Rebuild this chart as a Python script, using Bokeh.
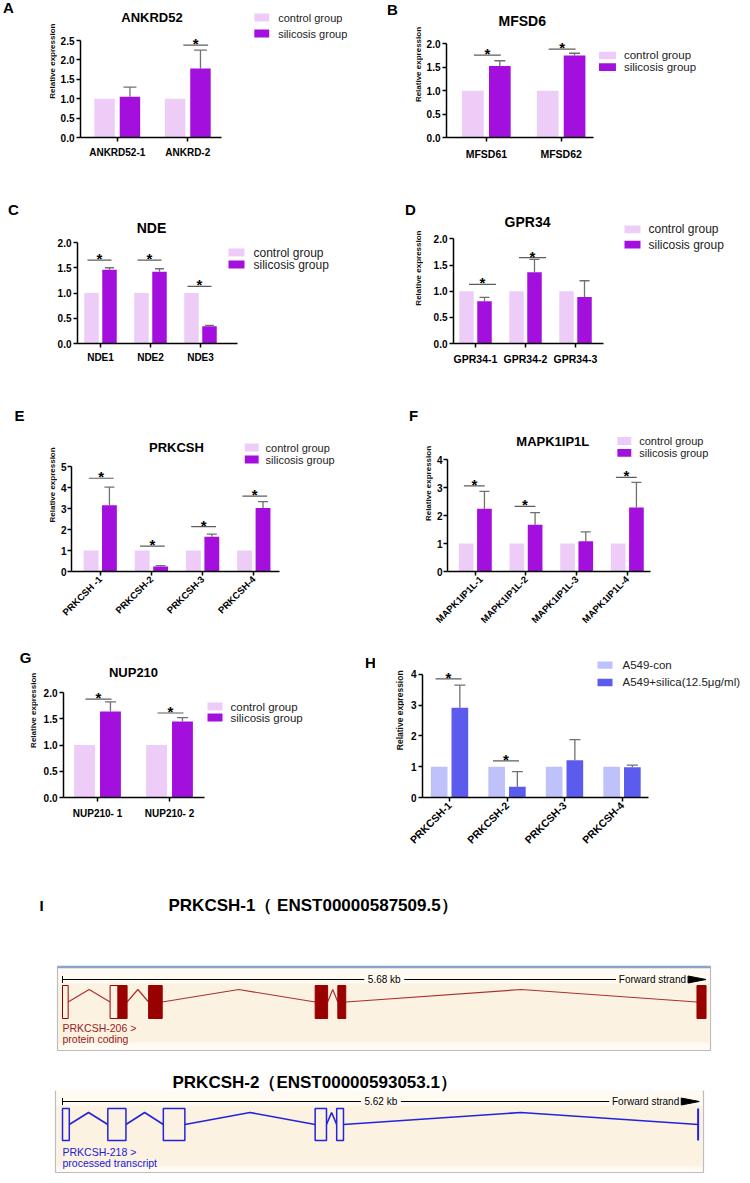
import math
from bokeh.plotting import figure
from bokeh.models import (Range1d, FixedTicker, Whisker, TeeHead,
                          ColumnDataSource, NumeralTickFormatter)
from bokeh.layouts import column, row
from bokeh.embed import file_html
from bokeh.resources import INLINE
from bokeh.core.properties import value

FONT = "Liberation Sans"

# ---------------- data ----------------
GROUPS = ["control group", "silicosis group"]
GROUPS_H = ["A549-con", "A549+silica(12.5μg/ml)"]
YLABEL = "Relative expression"

A_title = "ANKRD52"
A_cats = ["ANKRD52-1", "ANKRD-2"]
A_ctrl = [1.0, 1.0]
A_sil = [1.05, 1.78]
A_err = [0.25, 0.47]
A_sig = [None, 2.38]
A_yticks = [0, 0.5, 1.0, 1.5, 2.0, 2.5]

B_title = "MFSD6"
B_cats = ["MFSD61", "MFSD62"]
B_ctrl = [1.0, 1.0]
B_sil = [1.53, 1.75]
B_err = [0.11, 0.05]
B_sig = [1.76, 1.89]
B_yticks = [0, 0.5, 1.0, 1.5, 2.0]

C_title = "NDE"
C_cats = ["NDE1", "NDE2", "NDE3"]
C_ctrl = [1.0, 1.0, 1.0]
C_sil = [1.46, 1.42, 0.34]
C_err = [0.04, 0.06, 0.02]
C_sig = [1.65, 1.65, 1.13]
C_yticks = [0, 0.5, 1.0, 1.5, 2.0]

D_title = "GPR34"
D_cats = ["GPR34-1", "GPR34-2", "GPR34-3"]
D_ctrl = [1.0, 1.0, 1.0]
D_sil = [0.81, 1.36, 0.89]
D_err = [0.07, 0.25, 0.31]
D_sig = [1.13, 1.64, None]
D_yticks = [0, 0.5, 1.0, 1.5, 2.0]

E_title = "PRKCSH"
E_cats = ["PRKCSH -1", "PRKCSH-2", "PRKCSH-3", "PRKCSH-4"]
E_ctrl = [1.0, 1.0, 1.0, 1.0]
E_sil = [3.15, 0.24, 1.65, 3.02]
E_err = [0.87, 0.04, 0.13, 0.31]
E_sig = [4.44, 1.21, 2.14, 3.59]
E_yticks = [0, 1, 2, 3, 4, 5]

F_title = "MAPK1IP1L"
F_cats = ["MAPK1IP1L-1", "MAPK1IP1L-2", "MAPK1IP1L-3", "MAPK1IP1L-4"]
F_ctrl = [1.0, 1.0, 1.0, 1.0]
F_sil = [2.25, 1.67, 1.08, 2.29]
F_err = [0.62, 0.44, 0.34, 0.90]
F_sig = [3.07, 2.33, None, 3.37]
F_yticks = [0, 1, 2, 3, 4]

G_title = "NUP210"
G_cats = ["NUP210- 1", "NUP210- 2"]
G_ctrl = [1.0, 1.0]
G_sil = [1.64, 1.45]
G_err = [0.18, 0.07]
G_sig = [1.875, 1.61]
G_yticks = [0, 0.5, 1.0, 1.5, 2.0]

H_title = None
H_cats = ["PRKCSH-1", "PRKCSH-2", "PRKCSH-3", "PRKCSH-4"]
H_ctrl = [1.0, 1.0, 1.0, 1.0]
H_sil = [2.91, 0.35, 1.21, 0.98]
H_err = [0.74, 0.49, 0.67, 0.07]
H_sig = [3.85, 1.19, None, None]
H_yticks = [0, 1, 2, 3, 4]

# gene structures (kb from transcript start)
T1_name = "PRKCSH-1（ ENST00000587509.5）"
T1_label = ["PRKCSH-206 >", "protein coding"]
T1_len = 5.68
T1_start = [0.00, 0.42, 0.76, 2.23, 2.43, 5.60]
T1_end = [0.05, 0.57, 0.88, 2.34, 2.50, 5.68]
T1_cds_start = 0.49

T2_name = "PRKCSH-2（ENST00000593053.1）"
T2_label = ["PRKCSH-218 >", "processed transcript"]
T2_len = 5.62
T2_start = [0.00, 0.40, 0.89, 2.23, 2.42, 5.61]
T2_end = [0.06, 0.56, 1.08, 2.33, 2.48, 5.61]

# ---------------- styles / layout ----------------
OFF = 0.18
BW = 0.29
ERR_C = "#707070"
SIG_C = "#5c5c5c"
PURPLE = ["#EDCDF7", "#A310DD"]
BLUE = ["#BFC2FA", "#5B5CEE"]
PW = 375

GEO = {
    "A": dict(ox=0, oy=0, h=200, split=57, ax=78, ay=137, ytop=40, t0=115, dx=71, xend=220,
              title_xy=(150, 17), tfs=13, letter=("A", 8, 10), sw=(253, 268), ly=(17, 33),
              tx=277, lfs=11, ylab=52, xfs=10, xstand=5, sig_shift=8, sig_hw=12.5, cap=13, fmt="0.0"),
    "B": dict(ox=375, oy=0, h=200, split=423, ax=445, ay=142, ytop=45, t0=485, dx=75, xend=592,
              title_xy=(521, 21), tfs=14, letter=("B", 392, 13), sw=(598, 615), ly=(57, 69),
              tx=623, lfs=11.5, ylab=418, xfs=10.5, xstand=6, sig_shift=1, sig_hw=13.5, cap=11, fmt="0.0"),
    "C": dict(ox=0, oy=200, h=200, split=30, ax=77, ay=343, ytop=242, t0=100, dx=50, xend=237,
              title_xy=(151, 227), tfs=14, letter=("C", 13, 212), sw=(228, 244), ly=(252, 264),
              tx=253, lfs=12, ylab=None, xfs=10, xstand=4, sig_shift=-1, sig_hw=12, cap=9, fmt="0.0"),
    "D": dict(ox=375, oy=200, h=200, split=423, ax=453, ay=349, ytop=240, t0=475, dx=50, xend=603,
              title_xy=(527, 222), tfs=14, letter=("D", 410, 212), sw=(624, 640), ly=(230, 246),
              tx=648, lfs=12, ylab=418, xfs=10.5, xstand=5, sig_shift=7, sig_hw=13.5, cap=10, fmt="0.0"),
    "E": dict(ox=0, oy=400, h=240, split=57, ax=68, ay=571, ytop=466, t0=97, dx=51.7, xend=278,
              title_xy=(174, 447), tfs=13, letter=("E", 19, 421), sw=(243, 257), ly=(447, 459),
              tx=264, lfs=11, ylab=52, xfs=9.5, xstand=2, ystand=1, rot=True, sig_shift=1,
              sig_hw=12.5, cap=10, fmt="0"),
    "F": dict(ox=375, oy=400, h=240, split=433, ax=445, ay=573, ytop=460, t0=473, dx=51, xend=649,
              title_xy=(551, 441), tfs=13, letter=("F", 413, 421), sw=(616, 630), ly=(441, 453),
              tx=638, lfs=11, ylab=428, xfs=9.5, xstand=2, ystand=1, rot=True, sig_shift=-1,
              sig_hw=10.5, cap=10, fmt="0"),
    "G": dict(ox=0, oy=640, h=235, split=38, ax=63, ay=797, ytop=692, t0=97, dx=72, xend=204,
              title_xy=(133, 672), tfs=13, letter=("G", 25, 665), sw=(207, 222), ly=(706, 717),
              tx=230, lfs=11.5, ylab=33, xfs=10, xstand=6, sig_shift=1, sig_hw=13, cap=11, fmt="0.0",
              extra_letter=("H", 370, 662)),
    "H": dict(ox=375, oy=640, h=235, split=404, ax=422, ay=812, ytop=677, t0=449, dx=57.5, xend=648,
              title_xy=None, tfs=13, letter=None, sw=(597, 612), ly=(667, 686),
              tx=622, lfs=11.5, ylab=399, ylfs=8.5, xfs=10.5, xstand=2, rot=True, sig_shift=-1,
              sig_hw=13, cap=11, fmt="0"),
}


def side_strip(g):
    """Narrow figure left of a chart's y axis holding the panel letter and y-axis title."""
    ox, oy, H = g["ox"], g["oy"], g["h"]
    w = g["split"] - ox
    p = figure(width=w, height=H, title=None, x_range=Range1d(ox, ox + w),
               y_range=Range1d(-(oy + H), -oy), x_axis_type=None, y_axis_type=None,
               min_border=0, min_border_left=0, min_border_right=0, min_border_top=0,
               min_border_bottom=0, output_backend="svg", toolbar_location=None, tools="")
    p.outline_line_color = None
    p.background_fill_color = "white"
    p.border_fill_color = "white"
    if g.get("letter"):
        L, lx, ly = g["letter"]
        p.text(x=[lx], y=[-ly], text=[L], text_align="center", text_baseline="middle",
               text_font=value(FONT), text_font_size="15px", text_font_style="bold",
               text_color="black")
    if g.get("ylab") is not None:
        p.text(x=[g["ylab"]], y=[-(g["ytop"] + g["ay"]) / 2], text=[YLABEL], angle=math.pi / 2,
               text_align="center", text_baseline="middle", text_font=value(FONT),
               text_font_size=f"{g.get('ylfs', 8)}px", text_font_style="bold",
               text_color="#111111")
    return p


def bar_panel(g, title, cats, ctrl, treat, err, sig, yticks, names, colors):
    ox, oy, H = g["ox"], g["oy"], g["h"]
    sx0 = g["split"]
    ax, ay, t0, dx = g["ax"], g["ay"], g["t0"], g["dx"]
    py = (ay - g["ytop"]) / yticks[-1]

    def X(rx):
        return (rx - t0) / dx

    def Y(ry):
        return (ay - ry) / py

    p = figure(width=ox + PW - sx0, height=H, title=None,
               x_range=Range1d(X(ax), X(ox + PW)), y_range=Range1d(0, Y(oy)),
               output_backend="svg", toolbar_location=None, tools="",
               min_border_left=int(ax - sx0), min_border_right=0, min_border_top=0,
               min_border_bottom=int(H - (ay - oy)))
    p.outline_line_color = None
    p.xgrid.visible = False
    p.ygrid.visible = False
    p.background_fill_color = "white"
    p.border_fill_color = "white"

    idx = list(range(len(cats)))
    src = ColumnDataSource(dict(
        xc=[i - OFF for i in idx], xt=[i + OFF for i in idx],
        ctrl=ctrl, treat=treat, hi=[t + e for t, e in zip(treat, err)]))
    p.vbar(x="xc", top="ctrl", width=BW, source=src, fill_color=colors[0], line_color=None)
    p.vbar(x="xt", top="treat", width=BW, source=src, fill_color=colors[1], line_color=None)
    p.add_layout(Whisker(source=src, base="xt", lower="treat", upper="hi",
                         line_color=ERR_C, line_width=1.3,
                         upper_head=TeeHead(size=g["cap"], line_color=ERR_C, line_width=1.3),
                         lower_head=None))

    # axes
    xa = p.xaxis[0]
    ya = p.yaxis[0]
    xa.ticker = FixedTicker(ticks=idx)
    xa.major_label_overrides = {i: c for i, c in enumerate(cats)}
    xa.bounds = (X(ax), X(g["xend"]))
    ya.ticker = FixedTicker(ticks=yticks)
    ya.formatter = NumeralTickFormatter(format=g["fmt"])
    ya.bounds = (0, yticks[-1])
    for a in (xa, ya):
        a.axis_line_color = "black"
        a.axis_line_width = 1.5
        a.major_tick_line_color = "black"
        a.major_tick_line_width = 1.5
        a.major_tick_out = 4
        a.major_tick_in = 0
        a.minor_tick_line_color = None
        a.major_label_text_font = FONT
        a.major_label_text_font_style = "bold"
        a.major_label_text_color = "black"
    ya.major_label_standoff = g.get("ystand", 2)
    xa.major_label_standoff = g.get("xstand", 2)
    xa.major_label_text_font_size = f"{g['xfs']}px"
    ya.major_label_text_font_size = "10px"
    if g.get("rot"):
        xa.major_label_orientation = math.pi / 4

    # significance bars and stars
    sx = [i + g["sig_shift"] / dx for i, s in enumerate(sig) if s is not None]
    sy = [s for s in sig if s is not None]
    hw = g["sig_hw"] / dx
    if sx:
        p.segment(x0=[x - hw for x in sx], x1=[x + hw for x in sx], y0=sy, y1=sy,
                  line_color=SIG_C, line_width=1.2)
        p.text(x=sx, y=[s + 1.5 / py for s in sy], text=["*"] * len(sx),
               text_align="center", text_baseline="alphabetic", text_font=value(FONT),
               text_font_size="15px", text_font_style="bold", text_color="black")

    # legend (swatches + labels)
    s0, s1 = g["sw"]
    p.rect(x=[X((s0 + s1) / 2)] * 2, y=[Y(v) for v in g["ly"]],
           width=(s1 - s0) / dx, height=8 / py, fill_color=colors, line_color=None)
    p.text(x=[X(g["tx"])] * 2, y=[Y(v) for v in g["ly"]], text=names,
           text_align="left", text_baseline="middle", text_font=value(FONT),
           text_font_size=f"{g['lfs']}px", text_color="#222222")

    # title
    if title:
        tx_, ty_ = g["title_xy"]
        p.text(x=[X(tx_)], y=[Y(ty_)], text=[title], text_align="center",
               text_baseline="middle", text_font=value(FONT),
               text_font_size=f"{g['tfs']}px", text_font_style="bold", text_color="black")

    if g.get("extra_letter"):
        L, lx, ly = g["extra_letter"]
        p.text(x=[X(lx)], y=[Y(ly)], text=[L], text_align="center", text_baseline="middle",
               text_font=value(FONT), text_font_size="15px", text_font_style="bold",
               text_color="black")
    return [side_strip(g), p]


pA = bar_panel(GEO["A"], A_title, A_cats, A_ctrl, A_sil, A_err, A_sig, A_yticks, GROUPS, PURPLE)
pB = bar_panel(GEO["B"], B_title, B_cats, B_ctrl, B_sil, B_err, B_sig, B_yticks, GROUPS, PURPLE)
pC = bar_panel(GEO["C"], C_title, C_cats, C_ctrl, C_sil, C_err, C_sig, C_yticks, GROUPS, PURPLE)
pD = bar_panel(GEO["D"], D_title, D_cats, D_ctrl, D_sil, D_err, D_sig, D_yticks, GROUPS, PURPLE)
pE = bar_panel(GEO["E"], E_title, E_cats, E_ctrl, E_sil, E_err, E_sig, E_yticks, GROUPS, PURPLE)
pF = bar_panel(GEO["F"], F_title, F_cats, F_ctrl, F_sil, F_err, F_sig, F_yticks, GROUPS, PURPLE)
pG = bar_panel(GEO["G"], G_title, G_cats, G_ctrl, G_sil, G_err, G_sig, G_yticks, GROUPS, PURPLE)
pH = bar_panel(GEO["H"], H_title, H_cats, H_ctrl, H_sil, H_err, H_sig, H_yticks, GROUPS_H, BLUE)

# ---------------- panel I: transcript structures ----------------
I_ORIGIN_PX = 62
I_PX_PER_KB = 113.3
I_TOP, I_BOTTOM = 875, 1183
BOX_FILL = "#FFFAF2"
BAND_FILL = "#FCF2E2"
RED = "#990000"
RED_LINE = "#A83232"
BLU = "#2323DD"


def K(rx):
    return (rx - I_ORIGIN_PX) / I_PX_PER_KB


pI = figure(width=750, height=I_BOTTOM - I_TOP, title=None, x_range=Range1d(K(0), K(750)),
            y_range=Range1d(I_BOTTOM, I_TOP), x_axis_type=None, y_axis_type=None,
            min_border=0, min_border_left=0, min_border_right=0, min_border_top=0,
            min_border_bottom=0, output_backend="svg", toolbar_location=None, tools="")
pI.outline_line_color = None
pI.background_fill_color = "white"

TXT = dict(text_font=value(FONT), text_baseline="middle")

pI.text(x=[K(41)], y=[905], text=["I"], text_align="center", text_font_size="15px",
        text_font_style="bold", text_color="black", **TXT)


def transcript(p, name, labels, length, starts, ends, cds_start, G):
    col = G["col"]
    # frame box
    p.quad(left=[K(G["bx0"])], right=[K(G["bx1"])], top=[G["btop"]], bottom=[G["bbot"]],
           fill_color=BOX_FILL, line_color=None)
    p.quad(left=[K(G["bx0"] + 1)], right=[K(G["bx1"] - 1)], top=[G["band"][0]],
           bottom=[G["band"][1]], fill_color=BAND_FILL, line_color=None)
    p.multi_line(xs=[[K(G["bx0"]), K(G["bx0"]), K(G["bx1"]), K(G["bx1"])]],
                 ys=[[G["btop"], G["bbot"], G["bbot"], G["btop"]]],
                 line_color="#BDBDBD", line_width=1.2)
    if G.get("topline"):
        p.segment(x0=[K(G["bx0"])], x1=[K(G["bx1"])], y0=[G["btop"] + 0.5], y1=[G["btop"] + 0.5],
                  line_color="#8DA2C9", line_width=2.5)
    # title
    p.text(x=[K(G["tx"])], y=[G["ty"]], text=[name], text_align="left",
           text_font_size="17px", text_font_style="bold", text_color="black", **TXT)
    # scale bar
    sy = G["sy"]
    mid = length / 2
    gap = 20 / I_PX_PER_KB
    arrow0 = length - 18 / I_PX_PER_KB
    fw_right = arrow0 - 2 / I_PX_PER_KB
    fw_left = fw_right - 68 / I_PX_PER_KB
    p.segment(x0=[0, mid + gap, 0], x1=[mid - gap, fw_left - 2 / I_PX_PER_KB, 0],
              y0=[sy, sy, sy - 3.5], y1=[sy, sy, sy + 3.5], line_color="black", line_width=1)
    p.text(x=[mid], y=[sy], text=[f"{length:.2f} kb"], text_align="center",
           text_font_size="10px", text_color="black", **TXT)
    p.text(x=[fw_right], y=[sy], text=["Forward strand"], text_align="right",
           text_font_size="10px", text_color="black", **TXT)
    p.patch(x=[arrow0, length, arrow0], y=[sy - 3.5, sy, sy + 3.5], fill_color="black",
            line_color="black", line_width=1)
    # introns (hat shape)
    base, peak = G["base"], G["peak"]
    xs, ys = [], []
    for i in range(len(starts) - 1):
        a, b = ends[i], starts[i + 1]
        xs.append([a, (a + b) / 2, b])
        ys.append([base, peak, base])
    p.multi_line(xs=xs, ys=ys, line_color=G["icol"], line_width=G["iw"])
    # exons
    et, eb = G["etop"], G["ebot"]
    ol, orr, fl, fr = [], [], [], []
    lines_x = []
    for s, e in zip(starts, ends):
        if e - s < 1e-6:
            lines_x.append(s)
            continue
        if cds_start is None:
            ol.append(s)
            orr.append(e)
            continue
        if s < cds_start:
            ol.append(s)
            orr.append(min(e, cds_start))
        if e > cds_start:
            fl.append(max(s, cds_start))
            fr.append(e)
    if ol:
        p.quad(left=ol, right=orr, top=[et] * len(ol), bottom=[eb] * len(ol),
               fill_color=BAND_FILL, line_color=col, line_width=G["ew"])
    if fl:
        p.quad(left=fl, right=fr, top=[et] * len(fl), bottom=[eb] * len(fl),
               fill_color=col, line_color=col, line_width=1)
    if lines_x:
        p.segment(x0=lines_x, x1=lines_x, y0=[et] * len(lines_x), y1=[eb] * len(lines_x),
                  line_color=col, line_width=2)
    # transcript labels
    p.text(x=[0, 0], y=G["ly"], text=labels, text_align="left", text_font_size="10.5px",
           text_color=G["tcol"], **TXT)


transcript(pI, T1_name, T1_label, T1_len, T1_start, T1_end, T1_cds_start,
           dict(col=RED, icol=RED_LINE, iw=1.2, ew=1, tcol="#9B1B1B", bx0=57, bx1=710,
                btop=966, bbot=1050, band=(983, 1042), topline=True, tx=168, ty=905,
                sy=979, base=1001.5, peak=989, etop=985, ebot=1018, ly=[1027, 1038]))
transcript(pI, T2_name, T2_label, T2_len, T2_start, T2_end, None,
           dict(col=BLU, icol=BLU, iw=1.6, ew=1.5, tcol="#2020D8", bx0=55, bx1=703,
                btop=1090, bbot=1172, band=(1105, 1166), topline=False, tx=172, ty=1082,
                sy=1101, base=1124, peak=1112, etop=1108, ebot=1140, ly=[1151, 1162]))

layout = column(row(*pA, *pB), row(*pC, *pD), row(*pE, *pF), row(*pG, *pH), pI)

open("out.html", "w").write(file_html(layout, INLINE))
